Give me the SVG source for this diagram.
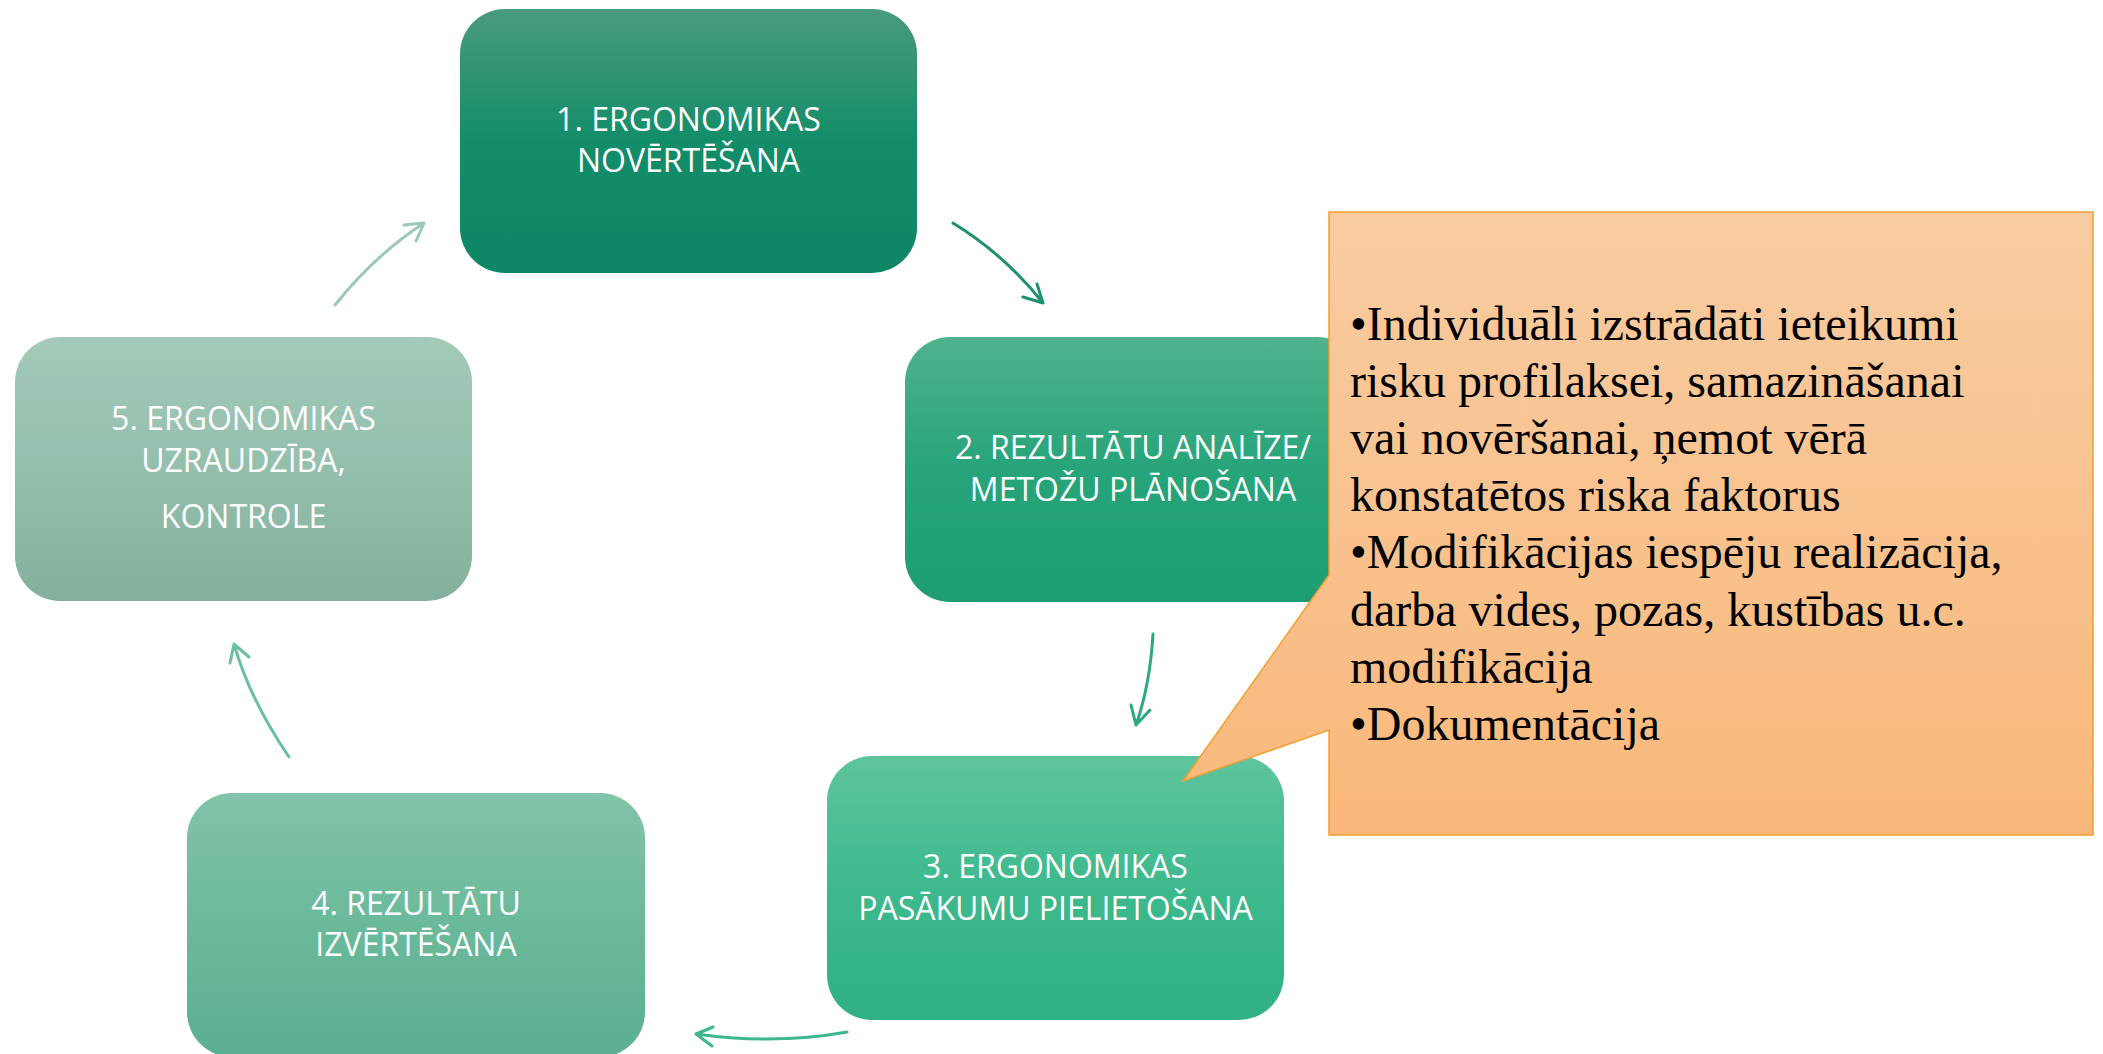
<svg xmlns="http://www.w3.org/2000/svg" width="2103" height="1054" viewBox="0 0 2103 1054">
<style>
.node text{font-family:"Open Sans","Liberation Sans",sans-serif;font-size:32px;fill:#ffffff;text-anchor:middle}
.call text{font-family:"Liberation Serif","Times New Roman",serif;font-size:48px;fill:#000000}
.conn path{fill:none;stroke-width:3;stroke-linecap:round;stroke-linejoin:round}
</style>
<defs>
<linearGradient id="g1" x1="0" y1="0" x2="0" y2="1"><stop offset="0" stop-color="#4A9A7E"/><stop offset="0.5" stop-color="#138D69"/><stop offset="1" stop-color="#0E8665"/></linearGradient>
<linearGradient id="g2" x1="0" y1="0" x2="0" y2="1"><stop offset="0" stop-color="#4FB28D"/><stop offset="0.5" stop-color="#27A47A"/><stop offset="1" stop-color="#1E9C73"/></linearGradient>
<linearGradient id="g3" x1="0" y1="0" x2="0" y2="1"><stop offset="0" stop-color="#5FC49D"/><stop offset="0.5" stop-color="#3DB98D"/><stop offset="1" stop-color="#30B085"/></linearGradient>
<linearGradient id="g4" x1="0" y1="0" x2="0" y2="1"><stop offset="0" stop-color="#82C3A9"/><stop offset="0.5" stop-color="#6BB99B"/><stop offset="1" stop-color="#5BAF90"/></linearGradient>
<linearGradient id="g5" x1="0" y1="0" x2="0" y2="1"><stop offset="0" stop-color="#A4C9B9"/><stop offset="0.5" stop-color="#94BFAD"/><stop offset="1" stop-color="#84B09E"/></linearGradient>
<linearGradient id="gc" x1="0" y1="0" x2="0" y2="1"><stop offset="0" stop-color="#F8CCA2"/><stop offset="1" stop-color="#F9B87A"/></linearGradient>
</defs>
<rect width="2103" height="1054" fill="#ffffff"/>
<g id="connectors" class="conn">
<path d="M953,223 Q1005,255 1043,303 M1037,284 L1043,303 L1023,297" stroke="#1E9070"/>
<path d="M1153,634 Q1150,685 1136,725 M1131,705 L1136,725 L1150,710" stroke="#2BAA80"/>
<path d="M847,1032 Q775,1045 696,1034 M713,1027 L696,1034 L712,1046" stroke="#3DB88E"/>
<path d="M289,757 Q250,700 234,644 M230,663 L234,644 L249,657" stroke="#6CC0A0"/>
<path d="M335,305 Q375,255 424,223 M404,225 L424,223 L416,241" stroke="#9CC8B6"/>
</g>
<g id="node1" class="node">
<rect x="460" y="9" width="457" height="264" rx="45" fill="url(#g1)"/>
<text x="688.5" y="131">1. ERGONOMIKAS</text>
<text x="688.5" y="172">NOVĒRTĒŠANA</text>
</g>
<g id="node2" class="node">
<rect x="905" y="337" width="457" height="265" rx="45" fill="url(#g2)"/>
<text x="1133" y="459">2. REZULTĀTU ANALĪZE/</text>
<text x="1133" y="501">METOŽU PLĀNOŠANA</text>
</g>
<g id="node3" class="node">
<rect x="827" y="756" width="457" height="264" rx="45" fill="url(#g3)"/>
<text x="1055.5" y="878">3. ERGONOMIKAS</text>
<text x="1055.5" y="920">PASĀKUMU PIELIETOŠANA</text>
</g>
<g id="node4" class="node">
<rect x="187" y="793" width="458" height="264" rx="45" fill="url(#g4)"/>
<text x="416" y="915">4. REZULTĀTU</text>
<text x="416" y="956">IZVĒRTĒŠANA</text>
</g>
<g id="node5" class="node">
<rect x="15" y="337" width="457" height="264" rx="45" fill="url(#g5)"/>
<text x="243.5" y="430">5. ERGONOMIKAS</text>
<text x="243.5" y="472">UZRAUDZĪBA,</text>
<text x="243.5" y="528">KONTROLE</text>
</g>
<g id="callout" class="call">
<path d="M1329,212 L2093,212 L2093,835 L1329,835 L1329,730 L1183,781 L1329,575 Z" fill="url(#gc)" stroke="#F0A032" stroke-width="1.5"/>
<text x="1350" y="340">•Individuāli izstrādāti ieteikumi</text>
<text x="1350" y="397">risku profilaksei, samazināšanai</text>
<text x="1350" y="454">vai novēršanai, ņemot vērā</text>
<text x="1350" y="511">konstatētos riska faktorus</text>
<text x="1350" y="568">•Modifikācijas iespēju realizācija,</text>
<text x="1350" y="626">darba vides, pozas, kustības u.c.</text>
<text x="1350" y="683">modifikācija</text>
<text x="1350" y="740">•Dokumentācija</text>
</g>
</svg>
